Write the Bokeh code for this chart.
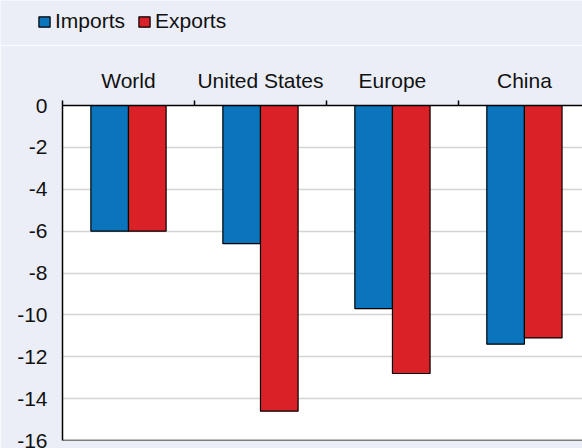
from bokeh.plotting import figure
from bokeh.models import (Range1d, LinearAxis, FixedTicker, Legend, LegendItem,
                          ColumnDataSource, Span)
from bokeh.transform import dodge
from bokeh.embed import file_html
from bokeh.resources import INLINE

categories = ["World", "United States", "Europe", "China"]
imports = [-6.0, -6.6, -9.7, -11.4]
exports = [-6.0, -14.6, -12.8, -11.1]
y_ticks = [0, -2, -4, -6, -8, -10, -12, -14, -16]
y_labels = ["0", "-2", "-4", "-6", "-8", "-10", "-12", "-14", "-16"]
series_names = ["Imports", "Exports"]

FONT = "Liberation Sans"
BG = "#ebeef7"
BLUE = "#0a74bd"
RED = "#da2128"
LEG_H = 45

centers = [i + 0.5 for i in range(len(categories))]
src = ColumnDataSource(dict(x=centers, imp=imports, exp=exports))

p = figure(width=582, height=448 - LEG_H, output_backend="svg", toolbar_location=None,
           x_range=Range1d(0, 3.94), y_range=Range1d(-16, 0),
           x_axis_location=None, y_axis_location=None,
           min_border_left=62, min_border_right=0, min_border_top=105 - LEG_H,
           min_border_bottom=8)
p.background_fill_color = "white"
p.border_fill_color = BG
p.outline_line_color = None

bw = 0.285
r_imp = p.vbar(x=dodge("x", -bw / 2, range=p.x_range), top=0, bottom="imp", width=bw,
               source=src, fill_color=BLUE, line_color="black", line_width=1.2)
r_exp = p.vbar(x=dodge("x", bw / 2, range=p.x_range), top=0, bottom="exp", width=bw,
               source=src, fill_color=RED, line_color="black", line_width=1.2)

# Left axis
yax = LinearAxis(ticker=FixedTicker(ticks=y_ticks))
yax.major_label_overrides = {t: s for t, s in zip(y_ticks, y_labels)}
yax.axis_line_color = "black"
yax.axis_line_width = 1.5
yax.major_tick_line_color = None
yax.minor_tick_line_color = None
yax.major_label_text_font = FONT
yax.major_label_text_font_size = "21px"
yax.major_label_text_color = "#111111"
yax.major_label_standoff = 9
p.add_layout(yax, "left")

# Top category axis
xax = LinearAxis(ticker=FixedTicker(ticks=centers, minor_ticks=[0, 1, 2, 3, 4]))
xax.major_label_overrides = {c: name for c, name in zip(centers, categories)}
xax.axis_line_color = "black"
xax.axis_line_width = 1.5
xax.major_tick_line_color = None
xax.major_tick_out = 0
xax.major_tick_in = 0
xax.minor_tick_line_color = "black"
xax.minor_tick_line_width = 1.5
xax.minor_tick_out = 5
xax.minor_tick_in = 0
xax.major_label_text_font = FONT
xax.major_label_text_font_size = "21px"
xax.major_label_text_color = "#111111"
xax.major_label_standoff = 9
p.add_layout(xax, "above")

p.ygrid.ticker = FixedTicker(ticks=y_ticks)
p.ygrid.grid_line_color = "#d4d4d4"
p.ygrid.grid_line_width = 1.5
p.xgrid.grid_line_color = None

p.add_layout(Span(location=-16, dimension="width", line_color="black", line_width=1.5))

# Legend strip on top (its bars fall outside its own range, so only the legend shows)
lg = figure(width=582, height=LEG_H, output_backend="svg", toolbar_location=None,
            x_range=Range1d(0, 3.94), y_range=Range1d(0, 1),
            x_axis_location=None, y_axis_location=None,
            min_border_left=0, min_border_right=0, min_border_top=0,
            min_border_bottom=0)
lg.background_fill_color = BG
lg.border_fill_color = BG
lg.outline_line_color = None
lg.xgrid.grid_line_color = None
lg.ygrid.grid_line_color = None
d_imp = lg.vbar(x="x", top=0, bottom="imp", width=bw, source=src,
                fill_color=BLUE, line_color="black", line_width=1.2)
d_exp = lg.vbar(x="x", top=0, bottom="exp", width=bw, source=src,
                fill_color=RED, line_color="black", line_width=1.2)

legend = Legend(items=[LegendItem(label=series_names[0], renderers=[d_imp], index=0),
                       LegendItem(label=series_names[1], renderers=[d_exp], index=0)],
                location=(37, 12), orientation="horizontal")
legend.background_fill_alpha = 0
legend.border_line_color = None
legend.padding = 0
legend.margin = 0
legend.spacing = 12
legend.glyph_width = 14
legend.glyph_height = 13
legend.label_standoff = 4
legend.label_height = 22
legend.label_width = 10
legend.label_text_font = FONT
legend.label_text_font_size = "21px"
legend.label_text_color = "#111111"
lg.add_layout(legend)

open("out.html", "w").write(file_html([lg, p], INLINE))
